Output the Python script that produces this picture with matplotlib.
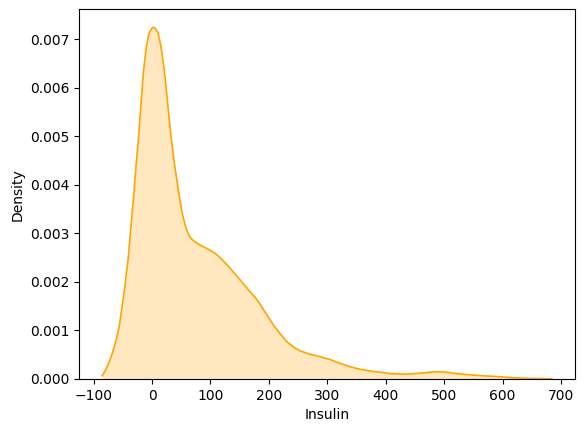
import numpy as np
import matplotlib
matplotlib.use("Agg")
import matplotlib.pyplot as plt

# KDE of Insulin
insulin = [-85.5, -80, -74.2, -68, -61.5, -56, -51.3, -47, -43.9, -41, -36, -31.5,
           -27, -22.9, -18.8, -14.4, -9.7, -5.1, 0, 2.7, 6, 10.3, 15.4, 21.0,
           26.7, 32.5, 38.1, 46.7, 51, 55.8, 60, 64.3, 70, 76.9, 85, 94,
           108.2, 120, 130.9, 150.9, 165, 176.6, 185.1, 195, 207.9, 220, 230.8,
           242, 253.5, 270, 287.7, 305, 321.9, 340, 356, 373, 390, 410, 430,
           445, 458.6, 475, 487, 500, 515.6, 530, 549.7, 575, 595.4, 612,
           629.6, 645, 660, 684.3]
density = [0.068, 0.17, 0.324, 0.53, 0.80, 1.1, 1.49, 1.85, 2.19, 2.45, 3.15, 3.76,
           4.45, 5.00, 5.68, 6.37, 6.85, 7.13, 7.23, 7.25, 7.22, 7.13, 6.85, 6.37,
           5.68, 5.00, 4.45, 3.76, 3.45, 3.21, 3.05, 2.93, 2.86, 2.80, 2.74, 2.69,
           2.59, 2.46, 2.32, 2.04, 1.84, 1.68, 1.54, 1.35, 1.11, 0.92, 0.77,
           0.66, 0.58, 0.51, 0.46, 0.40, 0.32, 0.25, 0.20, 0.165, 0.14, 0.11, 0.10,
           0.105, 0.12, 0.14, 0.15, 0.145, 0.12, 0.10, 0.08, 0.06, 0.047, 0.03,
           0.02, 0.012, 0.009, 0.006]
density = np.array(density) / 1000

fig = plt.figure(figsize=(5.84, 4.32), dpi=100)
ax = fig.add_axes([0.1358, 0.1227, 0.8488, 0.8558])
ax.fill_between(insulin, density, color="orange", alpha=0.25, linewidth=0)
ax.plot(insulin, density, color="orange", linewidth=1.2)
ax.set_xlim(-124.5, 724)
ax.set_ylim(0, 0.00762)
ax.set_xticks(range(-100, 701, 100))
ax.set_xlabel("Insulin")
ax.set_ylabel("Density")
fig.savefig("out.png")
